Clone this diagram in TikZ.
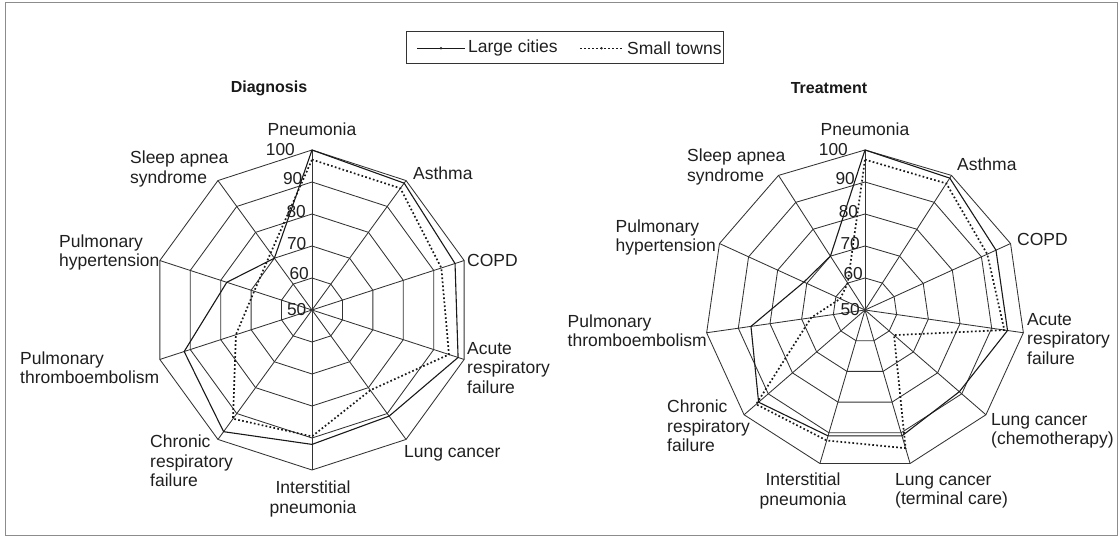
\documentclass[tikz,border=0pt]{standalone}
\usepackage{fontspec}
\setmainfont{Liberation Sans}
\usetikzlibrary{calc}
\begin{document}
\begin{tikzpicture}[x=1pt,y=1pt,
  gridline/.style={draw=black!80, line width=0.85pt, line join=round},
  bigcity/.style={draw=black!90, line width=1.1pt, line join=round},
  smalltown/.style={draw=black!90, line width=1.7pt, dash pattern=on 1.7pt off 2.3pt},
  lbl/.style={font=\fontsize{17.5}{19.4}\selectfont, text=black!88, inner sep=0pt, align=left},
  tick/.style={font=\fontsize{17.3}{19.2}\selectfont, text=black!88, inner sep=0pt, anchor=east},
  ttl/.style={font=\bfseries\fontsize{16}{19}\selectfont, text=black!90, inner sep=0pt},
  frame/.style={draw=black!45, line width=0.6pt}
]
\useasboundingbox (0,0) rectangle (1120,538);
\draw[frame] (5,3) rectangle (1117,536);

% ---------- legend ----------
\node[draw=black!80, line width=0.8pt, minimum width=316.6pt, minimum height=31.6pt, inner sep=0pt] (legend) at (565,490.5) {};
\coordinate (ls1) at (417,489.7);
\coordinate (ls2) at (465,489.7);
\draw[bigcity, line width=0.9pt] (ls1) -- (ls2);
\fill[black!85] ($(ls1)!0.5!(ls2)$) circle (1.3);
\node[lbl, anchor=west] (lgLarge) at (468,490) {Large cities};
\coordinate (ld1) at (580,489.7);
\coordinate (ld2) at (623,489.7);
\draw[smalltown, line width=1.4pt] (ld1) -- (ld2);
\fill[black!85] ($(ld1)!0.5!(ld2)$) circle (1.4);
\node[lbl, anchor=west] (lgSmall) at (627,490) {Small towns};

% ---------- Diagnosis chart ----------
\node[ttl] (tDiag) at (269,450) {Diagnosis};
\begin{scope}[shift={(312,228)}]
  \foreach \r in {32,64,96,128,160}
    \draw[gridline] (90:\r) \foreach \k in {1,...,9} { -- ({90-\k*36}:\r) } -- cycle;
  \foreach \k in {0,...,9}
    \draw[gridline] (0,0) -- ({90-\k*36}:160);
  \draw[bigcity] (90:160) -- (54:156.8) -- (18:150.4) -- (-18:153.6) -- (-54:131.2)
     -- (-90:134.4) -- (-126:150.4) -- (-162:134.4) -- (162:89.6) -- (126:64) -- cycle;
  \draw[smalltown] (90:150.4) -- (54:150.4) -- (18:136) -- (-18:144) -- (-54:99.2)
     -- (-90:126.4) -- (-126:134.4) -- (-162:80) -- (162:60.8) -- (126:70.4) -- cycle;
  \node[tick] (dT100) at (-17,160) {100};
  \node[tick] (dT90) at (-9.5,131) {90};
  \node[tick] (dT80) at (-6,98.5) {80};
  \node[tick] (dT70) at (-5.5,66.5) {70};
  \node[tick] (dT60) at (-3,36) {60};
  \node[tick] (dT50) at (-5.5,0) {50};
\end{scope}
\node[lbl, anchor=center] (dPn) at (312,409) {Pneumonia};
\node[lbl, anchor=west] (dAs) at (413,365) {Asthma};
\node[lbl, anchor=west] (dCOPD) at (467,278) {COPD};
\node[lbl, anchor=west] (dARF) at (467,170) {Acute\\respiratory\\failure};
\node[lbl, anchor=west] (dLC) at (404,85) {Lung cancer};
\node[lbl, anchor=center, align=center] (dIP) at (313,39) {Interstitial\\pneumonia};
\node[lbl, anchor=west] (dCRF) at (150,77) {Chronic\\respiratory\\failure};
\node[lbl, anchor=west] (dPTE) at (20,170.5) {Pulmonary\\thromboembolism};
\node[lbl, anchor=west] (dPH) at (59,285.5) {Pulmonary\\hypertension};
\node[lbl, anchor=west] (dSA) at (130,369) {Sleep apnea\\syndrome};

% ---------- Treatment chart ----------
\node[ttl] (tTreat) at (829,450) {Treatment};
\begin{scope}[shift={(865,228)}]
  \foreach \r in {32,64,96,128,160}
    \draw[gridline] (90:\r) \foreach \k in {1,...,10} { -- ({90-\k*360/11}:\r) } -- cycle;
  \foreach \k in {0,...,10}
    \draw[gridline] (0,0) -- ({90-\k*360/11}:160);
  \draw[bigcity] (90:160) -- (57.273:156.8) -- (24.545:144) -- (-8.182:144) -- (-40.909:124.8)
     -- (-73.636:131.2) -- (-106.364:131.2) -- (-139.091:140.8) -- (-171.818:115.2)
     -- (155.455:67.2) -- (122.727:64) -- cycle;
  \draw[smalltown] (90:150.4) -- (57.273:150.4) -- (24.545:134.4) -- (-8.182:140.8) -- (-40.909:38.4)
     -- (-73.636:144) -- (-106.364:136) -- (-139.091:144) -- (-171.818:54.4)
     -- (155.455:27.2) -- (122.727:32) -- cycle;
  \node[tick] (tT100) at (-17,160) {100};
  \node[tick] (tT90) at (-10,131) {90};
  \node[tick] (tT80) at (-6.7,98.5) {80};
  \node[tick] (tT70) at (-5,66.5) {70};
  \node[tick] (tT60) at (-2,36) {60};
  \node[tick] (tT50) at (-5,0) {50};
\end{scope}
\node[lbl, anchor=center] (tPn) at (865,409) {Pneumonia};
\node[lbl, anchor=west] (tAs) at (957,374) {Asthma};
\node[lbl, anchor=west] (tCOPD) at (1017,299) {COPD};
\node[lbl, anchor=west] (tARF) at (1027,199) {Acute\\respiratory\\failure};
\node[lbl, anchor=west] (tLCc) at (991,107) {Lung cancer\\(chemotherapy)};
\node[lbl, anchor=west] (tLCt) at (895,47) {Lung cancer\\(terminal care)};
\node[lbl, anchor=center, align=center] (tIP) at (803,47) {Interstitial\\pneumonia};
\node[lbl, anchor=west] (tCRF) at (667,112) {Chronic\\respiratory\\failure};
\node[lbl, anchor=east] (tPTE) at (707,207) {Pulmonary\\thromboembolism};
\node[lbl, anchor=east] (tPH) at (716,300.5) {Pulmonary\\hypertension};
\node[lbl, anchor=west] (tSA) at (687,371) {Sleep apnea\\syndrome};
\end{tikzpicture}
\end{document}
